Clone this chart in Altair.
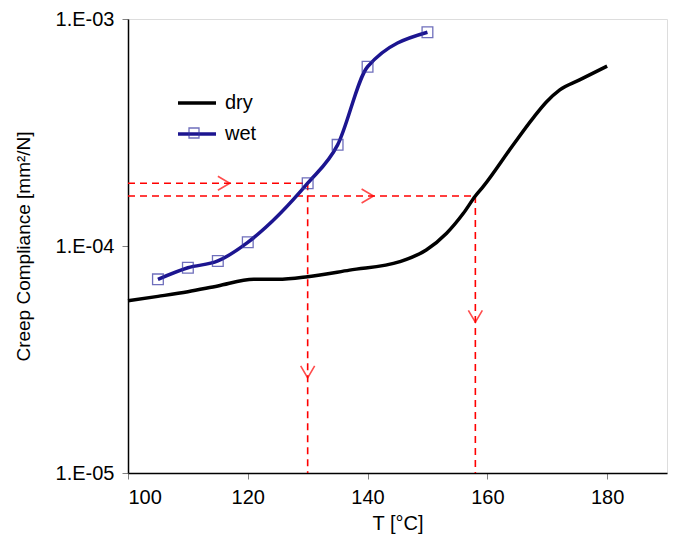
import altair as alt
import pandas as pd

# dry series (smooth line, no markers)
dry_T = [100, 105, 110, 115, 121, 125, 130, 137, 145.4, 149.8, 153.2, 156, 158, 159.3, 164.3, 167.6, 169.9, 172.1, 175.4, 180]
dry_C = [5.74e-5, 6.0e-5, 6.29e-5, 6.67e-5, 7.13e-5, 7.13e-5, 7.32e-5, 7.83e-5, 8.53e-5, 9.60e-5,
         1.138e-4, 1.393e-4, 1.66e-4, 1.825e-4, 2.786e-4, 3.65e-4, 4.32e-4, 4.87e-4, 5.39e-4, 6.2e-4]

# wet series (line with square markers)
wet_T = [105, 110, 115, 120, 130, 135, 140, 150]
wet_C = [7.13e-5, 8.02e-5, 8.59e-5, 1.038e-4, 1.89e-4, 2.79e-4, 6.16e-4, 8.74e-4]

# red dashed guide lines
guide_x1 = [100, 130, 100, 158]
guide_x2 = [130, 130, 158, 158]
guide_y1 = [1.89e-4, 1.89e-4, 1.66e-4, 1.66e-4]
guide_y2 = [1.89e-4, 1.0e-5, 1.66e-4, 1.0e-5]

# arrow heads on the guide lines
arrow_T = [116.0, 140.0, 130.0, 158.0]
arrow_C = [1.89e-4, 1.66e-4, 2.79e-5, 4.9e-5]
arrow_dir = ["right", "right", "down", "down"]

y_ticks = [1e-5, 1e-4, 1e-3]
x_ticks = [100, 120, 140, 160, 180]

FONT = "Liberation Sans"
WET_LINE = "#1c1590"
WET_MARK = "#3333a0"

dry_df = pd.DataFrame({"T": dry_T, "C": dry_C, "series": "dry"})
wet_df = pd.DataFrame({"T": wet_T, "C": wet_C, "series": "wet"})
lines_df = pd.concat([dry_df, wet_df], ignore_index=True)
guide_df = pd.DataFrame({"x1": guide_x1, "x2": guide_x2, "y1": guide_y1, "y2": guide_y2})
arrow_df = pd.DataFrame({"T": arrow_T, "C": arrow_C, "dir": arrow_dir})

xscale = alt.Scale(domain=[100, 190], nice=False, zero=False)
yscale = alt.Scale(type="log", domain=[1e-5, 1e-3], nice=False)

xaxis = alt.Axis(values=x_ticks, title="T [°C]", grid=False, labelFontSize=20,
                 titleFontSize=20, titleFontWeight="normal", labelPadding=8, titlePadding=6,
                 tickSize=6, tickColor="#808080", domainColor="black", domainWidth=1.5,
                 labelColor="black", titleColor="black", labelFont=FONT, titleFont=FONT)
yaxis = alt.Axis(values=y_ticks, title="Creep Compliance [mm²/N]", grid=False,
                 labelExpr="datum.value >= 0.001 ? '1.E-03' : (datum.value >= 0.0001 ? '1.E-04' : '1.E-05')",
                 labelFontSize=20, titleFontSize=19, titleFontWeight="normal", labelPadding=8,
                 titlePadding=22, tickSize=6, tickColor="#808080", domainColor="black",
                 domainWidth=1.5, labelColor="black", titleColor="black", labelFont=FONT, titleFont=FONT)

guides = alt.Chart(guide_df).mark_rule(color="#ff0000", strokeWidth=1.6, strokeDash=[7, 5]).encode(
    x=alt.X("x1:Q", scale=xscale, axis=xaxis),
    x2="x2:Q",
    y=alt.Y("y1:Q", scale=yscale, axis=yaxis),
    y2="y2:Q",
)

lines = alt.Chart(lines_df).mark_line(strokeWidth=3.5, interpolate="monotone").encode(
    x=alt.X("T:Q", scale=xscale),
    y=alt.Y("C:Q", scale=yscale),
    color=alt.Color("series:N", title=None,
                    scale=alt.Scale(domain=["dry", "wet"], range=["black", WET_LINE]),
                    legend=alt.Legend(orient="none", legendX=48, legendY=63, symbolType="stroke",
                                      symbolSize=1444, symbolStrokeWidth=3.5, labelFontSize=20,
                                      labelFont=FONT, labelColor="black", labelOffset=7,
                                      rowPadding=-7, padding=0)),
    detail="series:N",
)

points = alt.Chart(wet_df).mark_point(shape="square", filled=False, size=115, strokeWidth=1.3,
                                      color=WET_MARK).encode(
    x=alt.X("T:Q", scale=xscale),
    y=alt.Y("C:Q", scale=yscale),
    shape=alt.Shape("series:N", title=None,
                    scale=alt.Scale(domain=["wet"], range=["square"]),
                    legend=alt.Legend(orient="none", legendX=60, legendY=108, symbolSize=100,
                                      symbolStrokeWidth=1.3, symbolStrokeColor=WET_MARK,
                                      symbolFillColor="white", labelExpr="''", labelFontSize=10,
                                      padding=0)),
)

arrows = alt.Chart(arrow_df).mark_point(filled=False, strokeWidth=1.6, color="#ff0000", size=196).encode(
    x=alt.X("T:Q", scale=xscale),
    y=alt.Y("C:Q", scale=yscale),
    shape=alt.Shape("dir:N", legend=None,
                    scale=alt.Scale(domain=["right", "down"],
                                    range=["M-0.85,-1L0.85,0L-0.85,1", "M-1,-0.85L0,0.85L1,-0.85"])),
)

chart = alt.layer(guides, lines, points, arrows).resolve_scale(shape="independent").properties(
    width=539, height=454,
    autosize=alt.AutoSizeParams(type="none"),
    padding={"left": 128, "top": 19, "right": 8, "bottom": 63},
).configure_view(stroke="black", strokeWidth=1.5).configure(background="white")

chart.save("out.html", embed_options={"renderer": "svg", "actions": False})
